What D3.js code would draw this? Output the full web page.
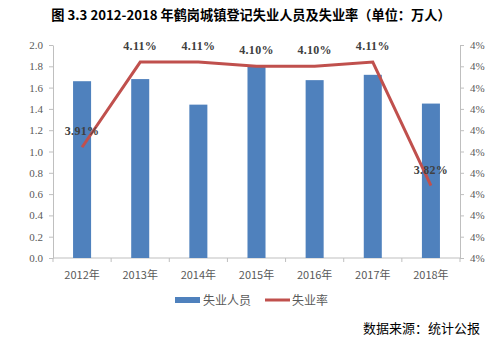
<!DOCTYPE html>
<html><head><meta charset="utf-8">
<script src="https://cdn.jsdelivr.net/npm/d3@7"></script>
<style>body{margin:0;background:#fff}</style>
</head><body>
<svg id="c" width="493" height="346"></svg>
<script>
const years = ["2012年","2013年","2014年","2015年","2016年","2017年","2018年"];
const unemployed = [1.66, 1.68, 1.44, 1.80, 1.67, 1.72, 1.45];
const rate = [3.91, 4.11, 4.11, 4.10, 4.10, 4.11, 3.82];
const leftTicks = [0,0.2,0.4,0.6,0.8,1.0,1.2,1.4,1.6,1.8,2.0];
const rightTicks = [3.65,3.70,3.75,3.80,3.85,3.90,3.95,4.00,4.05,4.10,4.15];
const title = "图 3.3  2012-2018 年鹤岗城镇登记失业人员及失业率（单位：万人）";
const seriesNames = ["失业人员","失业率"];
const source = "数据来源：统计公报";

const svg = d3.select("#c");
const L=53, R=460, T=45, B=258;
const x = d3.scaleBand().domain(years).range([L,R]).paddingInner(0.69).paddingOuter(0.345);
const y = d3.scaleLinear().domain([0,2]).range([B,T]);
const y2 = d3.scaleLinear().domain([3.65,4.15]).range([B,T]);
const grey="#BFBFBF", txt="#595959";
const font="'Liberation Serif','DejaVu Serif',serif";

svg.append("text").attr("x",251).attr("y",20).attr("text-anchor","middle")
  .attr("font-family","'Noto Sans CJK SC',sans-serif").attr("font-weight","bold")
  .attr("font-size",13.2).attr("fill","#000").text(title);

// left axis
const ga = svg.append("g").attr("transform",`translate(${L},0)`)
  .call(d3.axisLeft(y).tickValues(leftTicks).tickFormat(d3.format(".1f")).tickSize(4).tickSizeOuter(0));
// right axis
const gb = svg.append("g").attr("transform",`translate(${R},0)`)
  .call(d3.axisRight(y2).tickValues(rightTicks).tickFormat(d=>Math.round(d)+"%").tickSize(4).tickSizeOuter(0));
[ga,gb].forEach(g=>{
  g.select(".domain").attr("stroke",grey);
  g.selectAll(".tick line").attr("stroke",grey);
  g.selectAll(".tick text").attr("fill",txt).attr("font-family",font).attr("font-size",11);
});
ga.selectAll(".tick text").attr("x",-10);
gb.selectAll(".tick text").attr("x",10);

// bottom axis
const gx = svg.append("g").attr("transform",`translate(0,${B})`);
gx.append("line").attr("x1",L).attr("x2",R).attr("stroke",grey);
d3.range(years.length+1).forEach(i=>{
  const xx = L + i*(R-L)/years.length;
  gx.append("line").attr("x1",xx).attr("x2",xx).attr("y1",0).attr("y2",4).attr("stroke",grey);
});
gx.selectAll("text.xl").data(years).join("text").attr("class","xl")
  .attr("x",d=>x(d)+x.bandwidth()/2).attr("y",21).attr("text-anchor","middle")
  .attr("fill",txt).attr("font-size",11).attr("font-family","'Noto Sans CJK SC',sans-serif").text(d=>d);

// bars
svg.selectAll("rect.bar").data(unemployed).join("rect").attr("class","bar")
  .attr("x",(d,i)=>x(years[i])).attr("width",x.bandwidth())
  .attr("y",d=>y(d)).attr("height",d=>B-y(d)).attr("fill","#4F81BD");

// line
const cx = i => x(years[i])+x.bandwidth()/2;
svg.append("path").datum(rate)
  .attr("d",d3.line().x((d,i)=>cx(i)).y(d=>y2(d)))
  .attr("fill","none").attr("stroke","#C0504D").attr("stroke-width",3).attr("stroke-linejoin","miter");

svg.selectAll("text.dl").data(rate).join("text").attr("class","dl")
  .attr("x",(d,i)=>cx(i)).attr("y",d=>y2(d)-12).attr("text-anchor","middle")
  .attr("font-family",font).attr("font-weight","bold").attr("font-size",12).attr("fill","#404040")
  .attr("letter-spacing",0.3)
  .text(d=>d.toFixed(2)+"%");

// legend
const lg = svg.append("g");
lg.append("rect").attr("x",175).attr("y",297).attr("width",25).attr("height",6).attr("fill","#4F81BD");
lg.append("text").attr("x",203).attr("y",305).attr("font-size",12).attr("fill",txt)
  .attr("font-family","'Noto Sans CJK SC',sans-serif").text(seriesNames[0]);
lg.append("line").attr("x1",265).attr("x2",290).attr("y1",300).attr("y2",300).attr("stroke","#C0504D").attr("stroke-width",3);
lg.append("text").attr("x",292).attr("y",305).attr("font-size",12).attr("fill",txt)
  .attr("font-family","'Noto Sans CJK SC',sans-serif").text(seriesNames[1]);

svg.append("text").attr("x",480).attr("y",333).attr("text-anchor","end").attr("font-size",13)
  .attr("fill","#000").attr("font-family","'Noto Sans CJK SC',sans-serif").text(source);
</script>
</body></html>
